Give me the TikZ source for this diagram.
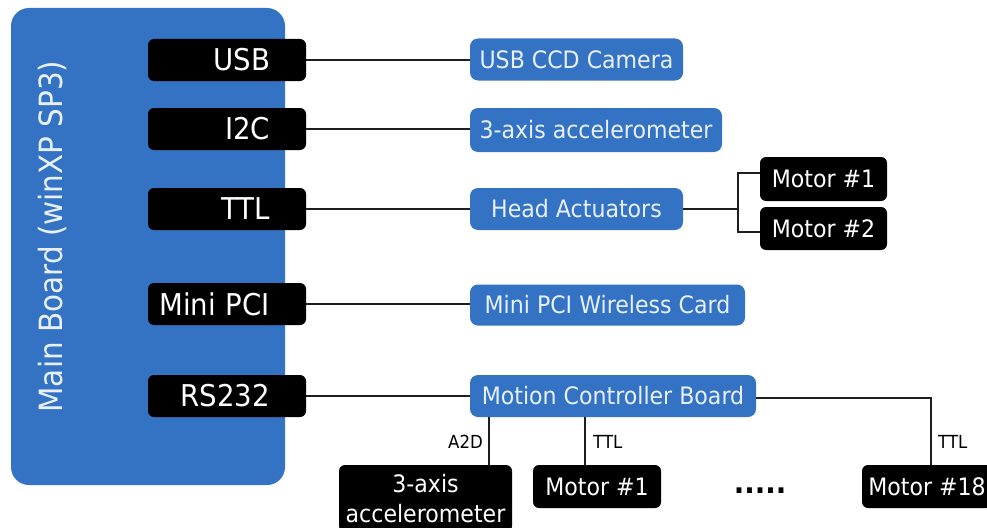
\documentclass[tikz,border=0pt]{standalone}
\usepackage{fontspec}
\setmainfont{DejaVu Sans}[FakeStretch=0.92]
\usetikzlibrary{calc}
\definecolor{boardblue}{RGB}{52,114,196}
\definecolor{txtblue}{RGB}{232,240,251}
\definecolor{wire}{RGB}{30,30,30}
\begin{document}
\begin{tikzpicture}[x=1pt,y=-1pt,
  conn/.style={draw=wire,line width=2.2pt},
  port/.style={fill=black,text=white,rounded corners=6pt,inner xsep=0pt,inner ysep=0pt,
    text width=158pt,align=right,minimum height=42pt,font=\fontsize{30}{34}\selectfont},
  dev/.style={fill=boardblue,text=txtblue,rounded corners=8pt,inner sep=0pt,
    minimum height=42pt,font=\fontsize{24}{28}\selectfont},
  blk/.style={fill=black,text=white,rounded corners=6pt,inner sep=0pt,
    minimum height=43pt,font=\fontsize{24}{28}\selectfont},
  lbl/.style={font=\fontsize{18}{20}\selectfont,text=black,inner sep=0pt}]
\useasboundingbox (0,0) rectangle (987,527);
\clip (0,0) rectangle (987,527);

% main board
\node[fill=boardblue,rounded corners=18pt,minimum width=274pt,minimum height=477pt,inner sep=0pt] (board) at (148,246.5) {};
\node[rotate=90,anchor=base,text=txtblue,inner sep=0pt,font=\fontsize{32}{36}\selectfont] (boardlbl) at (62,236.5) {Main Board (winXP SP3)};

% ports
\node[port] (usb) at (227,60) {USB\hspace*{36pt}};
\node[port] (i2c) at (227,129) {I2C\hspace*{36pt}};
\node[port] (ttl) at (227,209) {TTL\hspace*{36pt}};
\node[port] (pci) at (227,304) {Mini PCI\hspace*{36pt}};
\node[port] (rs) at (227,396) {RS232\hspace*{36pt}};

% devices
\node[dev,minimum width=213pt] (cam) at (576.5,59.5) {USB CCD Camera};
\node[dev,minimum width=252pt,minimum height=44pt] (acc) at (596,130) {3-axis accelerometer};
\node[dev,minimum width=213pt] (head) at (576.5,209) {Head Actuators};
\node[dev,minimum width=275pt,minimum height=41pt] (wifi) at (607.5,305) {Mini PCI Wireless Card};
\node[dev,minimum width=286pt] (motion) at (613,396) {Motion Controller Board};

% head motors
\node[blk,minimum width=127pt,minimum height=44pt] (hm1) at (823.5,179) {Motor \#1};
\node[blk,minimum width=127pt] (hm2) at (823.5,228.5) {Motor \#2};

% bottom devices
\node[blk,minimum width=173pt,minimum height=67pt,align=center,font=\fontsize{24}{30}\selectfont] (acc2) at (425.5,498.5) {3-axis\\accelerometer};
\node[blk,minimum width=128pt] (bm1) at (597,486.5) {Motor \#1};
\node[blk,minimum width=130pt] (bm18) at (927,486.5) {Motor \#18};
\node[inner sep=0pt,font=\bfseries\fontsize{30}{34}\selectfont] (dots) at (760,491) {.....};

% connectors
\draw[conn] (usb.east) -- (usb.east -| cam.west);
\draw[conn] (i2c.east) -- (i2c.east -| acc.west);
\draw[conn] (ttl.east) -- (ttl.east -| head.west);
\draw[conn] (pci.east) -- (pci.east -| wifi.west);
\draw[conn] (rs.east) -- (rs.east -| motion.west);

\coordinate (hj) at (738,209);
\draw[conn] (head.east) -- (hj);
\draw[conn] ([yshift=6pt]hm1.west) -| (hj) |- ([yshift=-3.5pt]hm2.west);

\path ([xshift=63.5pt]acc2.north) coordinate (a2d);
\draw[conn] (a2d) -- (a2d |- motion.south);
\path ([xshift=-12pt]bm1.north) coordinate (t1);
\draw[conn] (t1) -- (t1 |- motion.south);
\draw[conn] ([yshift=-2pt]motion.east) -| ([xshift=4pt]bm18.north);

% labels
\node[lbl,anchor=east] (la2d) at (483,442) {A2D};
\node[lbl,anchor=west] (lttl1) at (593,442) {TTL};
\node[lbl,anchor=west] (lttl2) at (938,442) {TTL};
\end{tikzpicture}
\end{document}
